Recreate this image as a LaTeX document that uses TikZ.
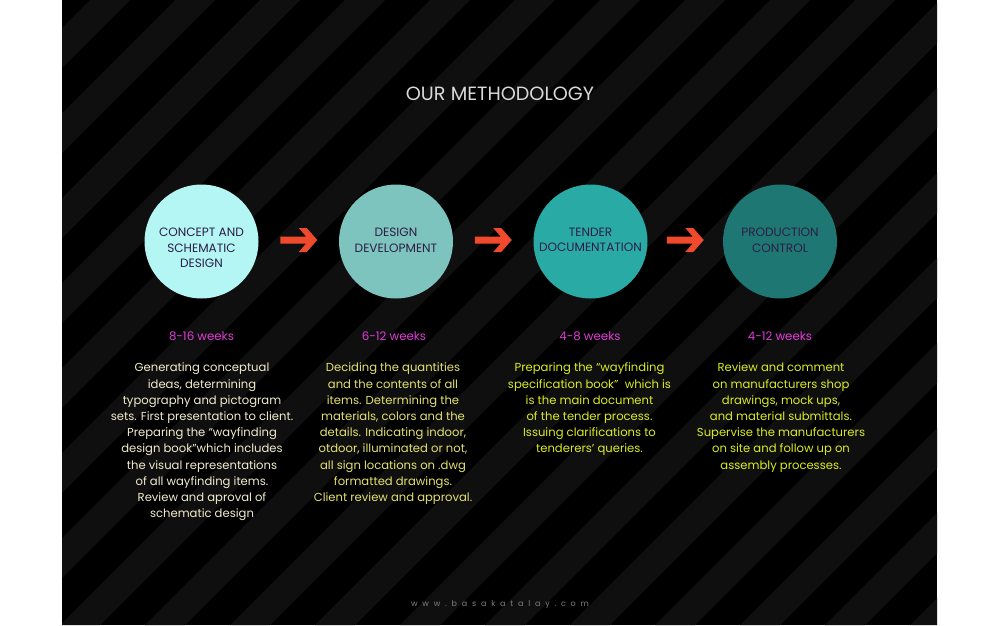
\documentclass[tikz,border=0pt]{standalone}
\usepackage{fontspec}
\setmainfont{Poppins}
\newfontfamily\bodyfont{Poppins}
\newfontfamily\footfont[LetterSpace=60]{Poppins}
\usetikzlibrary{calc}

\definecolor{stripe}{RGB}{15,15,15}
\definecolor{phaseone}{RGB}{180,246,244}
\definecolor{phasetwo}{RGB}{125,195,190}
\definecolor{phasethree}{RGB}{42,170,165}
\definecolor{phasefour}{RGB}{30,119,115}
\definecolor{capink}{RGB}{45,30,70}
\definecolor{weekpink}{RGB}{224,60,214}
\definecolor{cream}{RGB}{240,236,205}
\definecolor{paleyellow}{RGB}{228,226,110}
\definecolor{lime}{RGB}{220,236,30}
\definecolor{arrowred}{RGB}{240,74,44}

% chevron arrow drawn round a coordinate
\newcommand{\redarrow}[1]{\fill[arrowred,shift={(#1)}] (-18.5,-3.5) -- (7.4,-3.5) -- (0,-12) -- (8,-12) -- (18.5,0) -- (8,12) -- (0,12) -- (7.4,3.5) -- (-18.5,3.5) -- cycle;}

\begin{document}
\begin{tikzpicture}[x=1pt,y=-1pt]
        \tikzstyle{every node}=[inner sep=0pt,outer sep=0pt]
        \tikzstyle{phase}=[circle,minimum size=114pt,node distance=194.5pt]
        \tikzstyle{caption}=[font=\fontsize{12.1}{15.5}\selectfont,text=capink,align=center,anchor=north]
        \tikzstyle{weeks}=[font=\bodyfont\fontsize{11.8}{13}\selectfont,text=weekpink,anchor=base]
        \tikzstyle{blurb}=[font=\bodyfont\fontsize{11.6}{16.2}\selectfont,align=center,anchor=north]
        \useasboundingbox (0,0) rectangle (1000,625);

        % striped panel
        \fill[white] (0,0) rectangle (1000,625);
        \begin{scope}
            \clip (62,0) rectangle (937,625);
            \fill[black] (62,0) rectangle (937,625);
            \foreach \x in {-620,-535,...,1000}
                \fill[stripe] (\x,625) -- ++(40,0) -- ++(625,-625) -- ++(-40,0) -- cycle;
        \end{scope}

        % title
        \node[font=\fontsize{19.2}{21}\selectfont,text=black!15] (title) at (500,94) {OUR METHODOLOGY};

        % phases
        \node[phase,fill=phaseone] (c1) at (201.5,241.5) {};
        \node[phase,fill=phasetwo,right of=c1] (c2) {};
        \node[phase,fill=phasethree,right of=c2] (c3) {};
        \node[phase,fill=phasefour,right of=c3,node distance=189.5pt] (c4) {};

        \node[caption] (t1) at ([yshift=13.5pt]c1.center) {CONCEPT AND\\SCHEMATIC\\DESIGN};
        \node[caption] (t2) at ([yshift=13.5pt]c2.center) {DESIGN\\DEVELOPMENT};
        \node[caption] (t3) at ([yshift=13.5pt]c3.center) {TENDER\\DOCUMENTATION};
        \node[caption] (t4) at ([yshift=13.5pt]c4.center) {PRODUCTION\\CONTROL};

        % arrows between phases
        \coordinate (a1) at ($(c1)!0.5!(c2)+(0,-1.5)$);
        \coordinate (a2) at ($(c2)!0.5!(c3)+(0,-1.5)$);
        \coordinate (a3) at ($(c3)!0.5!(c4)+(0,-1.5)$);
        \redarrow{a1}
        \redarrow{a2}
        \redarrow{a3}

        % durations
        \node[weeks] (w1) at (201.5,340) {8-16 weeks};
        \node[weeks] (w2) at (394,340) {6-12 weeks};
        \node[weeks] (w3) at (590,340) {4-8 weeks};
        \node[weeks] (w4) at (780,340) {4-12 weeks};

        % descriptions
        \node[blurb,text=cream] (d1) at (202,363) {Generating conceptual\\ideas, determining\\typography and pictogram\\sets. First presentation to client.\\Preparing the “wayfinding\\design book”which includes\\the visual representations\\of all wayfinding items.\\Review and aproval of\\schematic design};
        \node[blurb,text=paleyellow] (d2) at (393,363) {Deciding the quantities\\and the contents of all\\items. Determining the\\materials, colors and the\\details. Indicating indoor,\\otdoor, illuminated or not,\\all sign locations on .dwg\\formatted drawings.\\Client review and approval.};
        \node[blurb,text=lime] (d3) at (589.5,363) {Preparing the “wayfinding\\specification book”\ \ which is\\is the main document\\of the tender process.\\Issuing clarifications to\\tenderers’ queries.};
        \node[blurb,text=lime] (d4) at (781,363) {Review and comment\\on manufacturers shop\\drawings, mock ups,\\and material submittals.\\Supervise the manufacturers\\on site and follow up on\\assembly processes.};

        % footer
        \node[font=\footfont\fontsize{8}{10}\selectfont,text=black!50] (web) at (500,605) {www.basakatalay.com};
\end{tikzpicture}
\end{document}
